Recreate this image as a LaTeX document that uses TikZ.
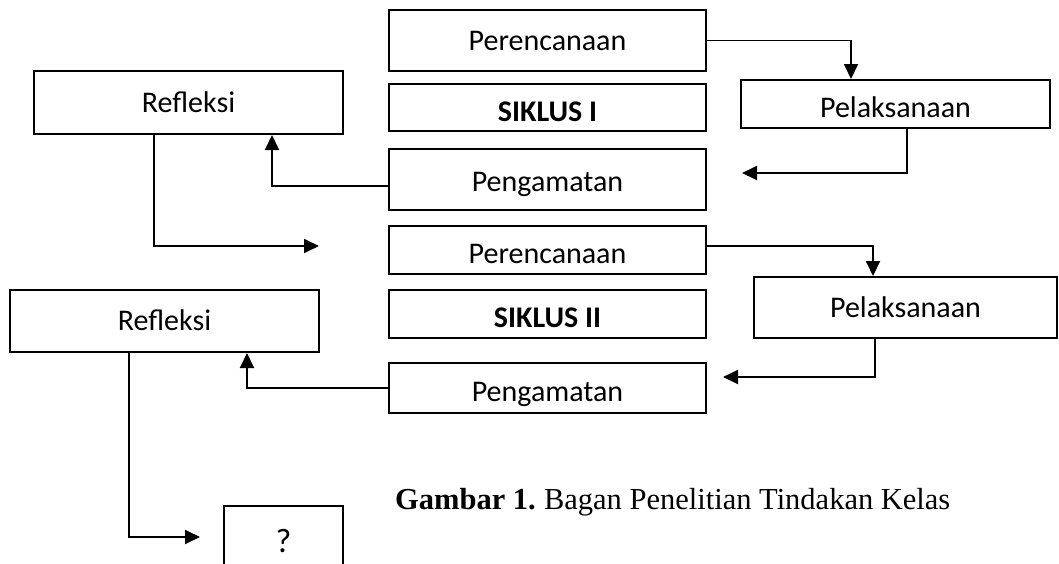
\documentclass[tikz,border=0pt]{standalone}
\usepackage{fontspec}
\setmainfont{Liberation Serif}
\setsansfont{Carlito}
\usetikzlibrary{arrows.meta}
\begin{document}
\begin{tikzpicture}[x=1pt, y=-1pt,
  kotak/.style={draw, line width=2pt, inner sep=0pt, font=\sffamily\fontsize{30}{30}\selectfont, text height=19pt, text depth=0pt},
  rendah/.style={text height=27pt},
  panah/.style={line width=1.9pt, -{Triangle[length=15pt,width=14pt]}}]
\useasboundingbox (0,0) rectangle (1059,563);
\clip (0,0) rectangle (1059,563);
\node[kotak, minimum width=317pt, minimum height=61pt] (Per_1) at (547.5,40.5) {Perencanaan};
\node[kotak, rendah, minimum width=317pt, minimum height=47pt, font=\sffamily\bfseries\fontsize{30}{30}\selectfont] (Sik_1) at (547.5,107.5) {SIKLUS I};
\node[kotak, rendah, minimum width=317pt, minimum height=61pt, text height=23pt] (Pen_1) at (547.5,179.5) {Pengamatan};
\node[kotak, minimum width=309pt, minimum height=63pt] (Ref_1) at (188.5,102.5) {Refleksi};
\node[kotak, rendah, minimum width=309pt, minimum height=48pt] (Pel_1) at (895.5,104) {Pelaksanaan};
\coordinate (c_pel_1) at (742,173);
\coordinate (c_ref_1) at (319,246);
\draw[panah] (Per_1.east) -| ([xshift=-44.5pt]Pel_1.north);
\draw[panah] ([xshift=11.5pt]Pel_1.south) |- (c_pel_1);
\draw[panah] ([yshift=-6.5pt]Pen_1.west) -| ([xshift=83.5pt]Ref_1.south);
\draw[panah] ([xshift=-34.5pt]Ref_1.south) |- (c_ref_1);
\node[kotak, rendah, minimum width=317pt, minimum height=48pt] (Per_2) at (547.5,250) {Perencanaan};
\node[kotak, rendah, minimum width=317pt, minimum height=48pt, font=\sffamily\bfseries\fontsize{30}{30}\selectfont] (Sik_2) at (547.5,314) {SIKLUS II};
\node[kotak, rendah, minimum width=317pt, minimum height=50pt] (Pen_2) at (547.5,388) {Pengamatan};
\node[kotak, minimum width=309pt, minimum height=62pt] (Ref_2) at (164.5,321) {Refleksi};
\node[kotak, minimum width=303pt, minimum height=61pt] (Pel_2) at (905.5,307.5) {Pelaksanaan};
\node[kotak, minimum width=119pt, minimum height=74pt, font=\sffamily\fontsize{34}{34}\selectfont] (Tanya) at (283.5,543) {?};
\coordinate (c_pel_2) at (723,377);
\coordinate (c_ref_2) at (200,537);
\draw[panah] ([yshift=4pt]Per_2.east) -| ([xshift=-32.5pt]Pel_2.north);
\draw[panah] ([xshift=-30.5pt]Pel_2.south) |- (c_pel_2);
\draw[panah] (Pen_2.west) -| ([xshift=82.5pt]Ref_2.south);
\draw[panah] ([xshift=-35.5pt]Ref_2.south) |- (c_ref_2);
\node[anchor=base west, inner sep=0pt, font=\fontsize{30.5}{32}\selectfont] (Judul) at (395,509) {\textbf{Gambar 1.}\hspace{-2pt} Bagan Penelitian Tindakan Kelas};
\end{tikzpicture}
\end{document}
